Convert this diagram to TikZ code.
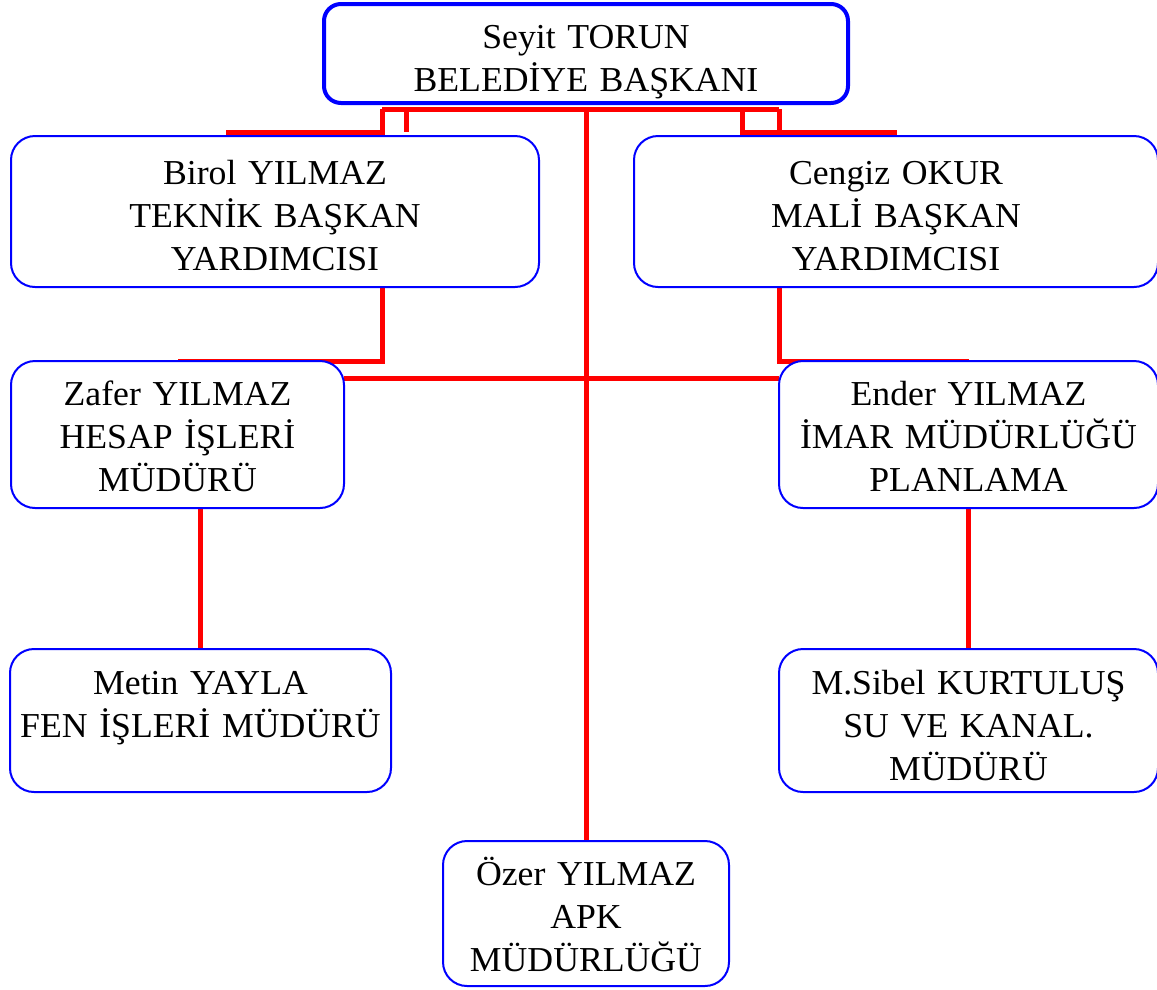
\documentclass[tikz,border=0pt]{standalone}
\usepackage{fontspec}
\setmainfont{Liberation Serif}[FakeStretch=1.02]
\usetikzlibrary{backgrounds}

\begin{document}
\begin{tikzpicture}[x=1pt, y=-1pt,
  kutu/.style={draw=blue, line width=2pt, rounded corners=24pt, fill=white, inner sep=0pt, outer sep=0pt},
  yazi/.style={anchor=base, inner sep=0pt, align=center, font=\fontsize{35}{43}\selectfont},
  hat/.style={draw=red, line width=5pt}]
\useasboundingbox (0,0) rectangle (1157,989);

% kutular
\node[kutu, line width=4pt, rounded corners=17pt, minimum width=524pt, minimum height=99pt] (baskan) at (586,53.5) {};
\node[kutu, minimum width=528pt, minimum height=151pt] (birol) at (275,211.5) {};
\node[kutu, minimum width=524pt, minimum height=151pt] (cengiz) at (896,211.5) {};
\node[kutu, minimum width=333pt, minimum height=147pt] (zafer) at (177.5,434.5) {};
\node[kutu, minimum width=379pt, minimum height=147pt] (ender) at (968.5,434.5) {};
\node[kutu, minimum width=381pt, minimum height=143pt] (metin) at (200.5,720.5) {};
\node[kutu, minimum width=379pt, minimum height=143pt] (sibel) at (968.5,720.5) {};
\node[kutu, minimum width=286pt, minimum height=145pt] (ozer) at (586,913.5) {};

% yazilar
\node[yazi, text width=500pt] (baskan-y) at ([yshift=-44pt]baskan.north) {Seyit TORUN\\BELEDİYE BAŞKANI};
\node[yazi, text width=500pt] (birol-y) at ([yshift=-48pt]birol.north) {Birol YILMAZ\\TEKNİK BAŞKAN\\YARDIMCISI};
\node[yazi, text width=500pt] (cengiz-y) at ([yshift=-48pt]cengiz.north) {Cengiz OKUR\\MALİ BAŞKAN\\YARDIMCISI};
\node[yazi, text width=330pt] (zafer-y) at ([yshift=-44pt]zafer.north) {Zafer YILMAZ\\HESAP İŞLERİ\\MÜDÜRÜ};
\node[yazi, text width=375pt] (ender-y) at ([yshift=-44pt]ender.north) {Ender YILMAZ\\İMAR MÜDÜRLÜĞÜ\\PLANLAMA};
\node[yazi, text width=378pt] (metin-y) at ([yshift=-45pt]metin.north) {Metin YAYLA\\FEN İŞLERİ MÜDÜRÜ};
\node[yazi, text width=375pt] (sibel-y) at ([yshift=-45pt]sibel.north) {M.Sibel KURTULUŞ\\SU VE KANAL.\\MÜDÜRÜ};
\node[yazi, text width=284pt] (ozer-y) at ([yshift=-44pt]ozer.north) {Özer YILMAZ\\APK\\MÜDÜRLÜĞÜ};

% baglantilar
\coordinate (sol1) at (382,109);
\coordinate (sol2) at (406,109);
\coordinate (sag1) at (742,109);
\coordinate (solu) at (226,132);
\coordinate (sagu) at (897,132);
\coordinate (orta) at (586,378);
\begin{scope}[on background layer]
\draw[hat] (sol1) -- (ender.west |- sol1);
\draw[hat] (sol1) |- (solu);
\draw[hat] (sol2) -- (sol2 |- solu);
\draw[hat] (sag1) |- (sagu);
\draw[hat] (ender.west |- sol1) -- (ender.west |- sagu);
\draw[hat] (birol.south -| sol1) |- (zafer.north);
\draw[hat] (cengiz.south -| ender.west) -- (ender.north west) -- (ender.north);
\draw[hat] (baskan.south |- sol1) -- (ozer.north);
\draw[hat] (zafer.east |- orta) -- (ender.west |- orta);
\draw[hat] (metin.north |- zafer.south) -- (metin.north);
\draw[hat] (ender.south) -- (sibel.north);
\end{scope}
\end{tikzpicture}
\end{document}
